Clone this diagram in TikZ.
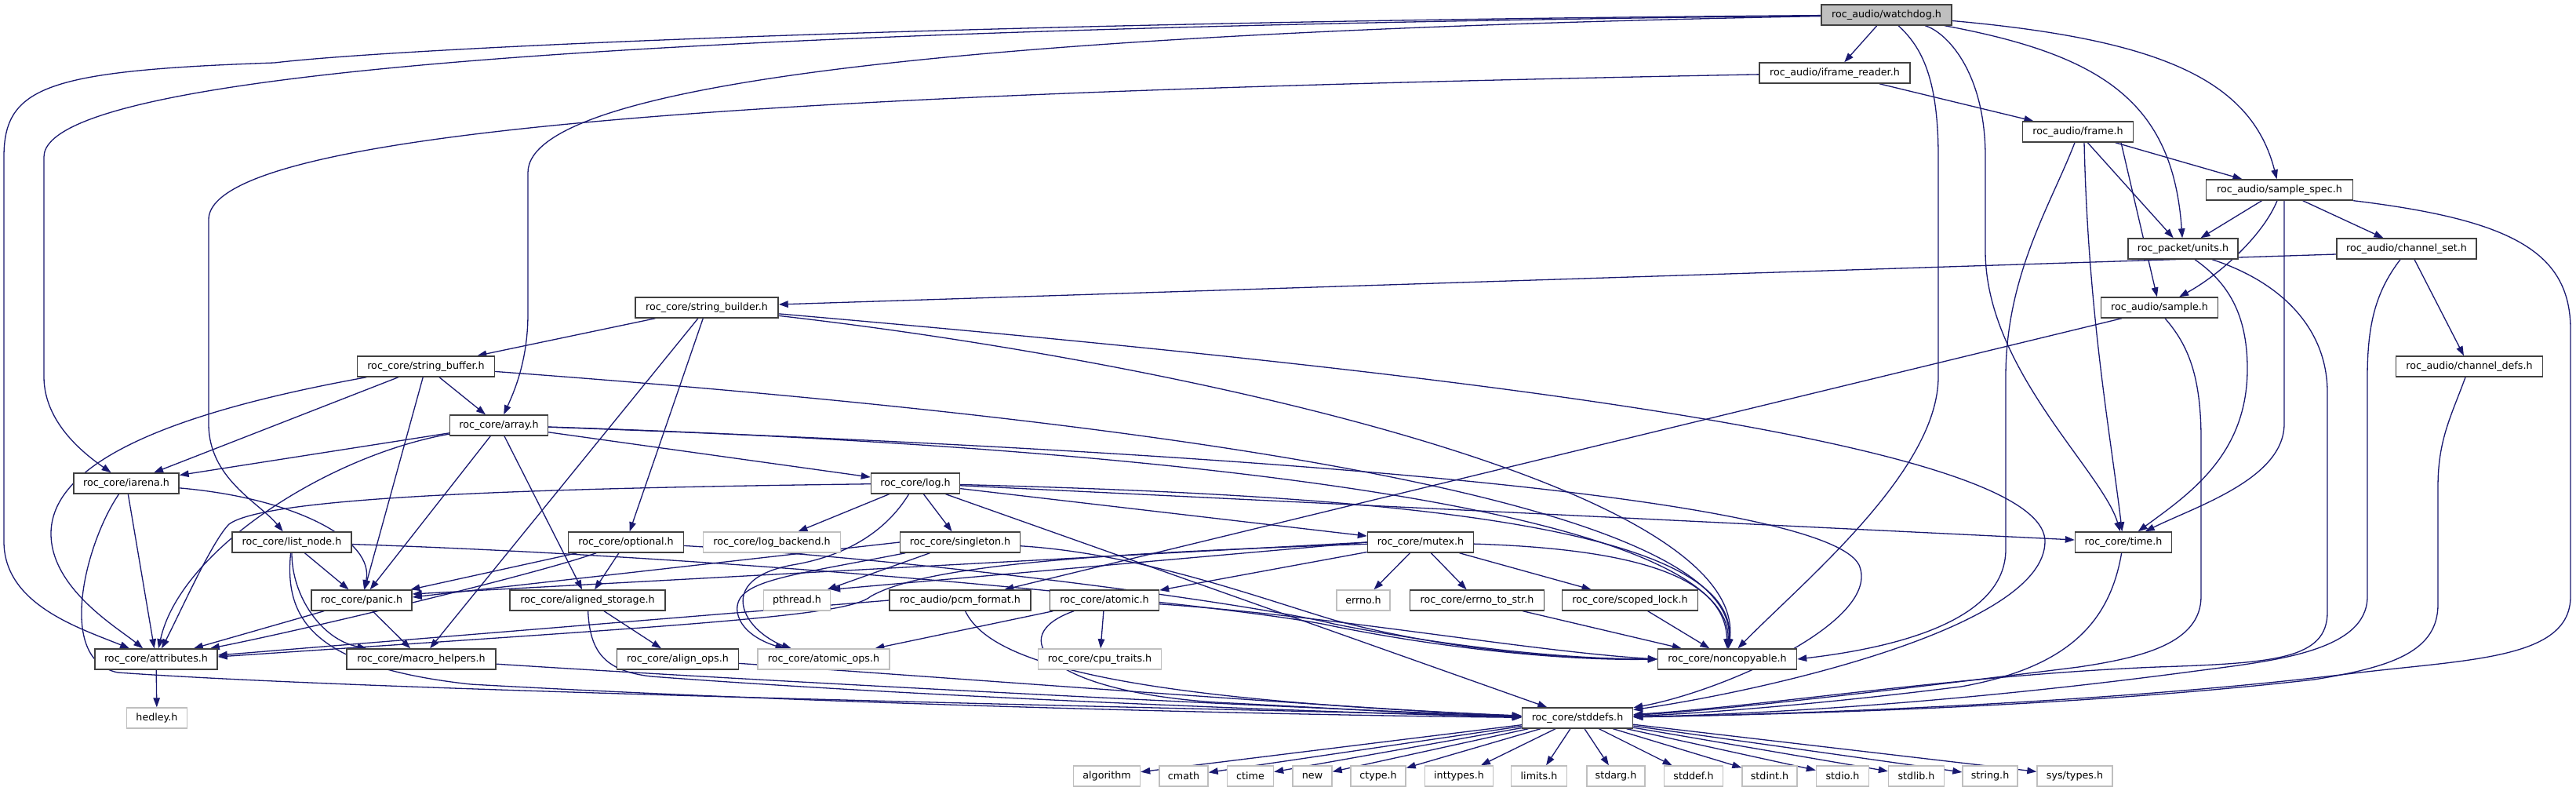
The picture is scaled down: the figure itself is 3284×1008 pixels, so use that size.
\documentclass[tikz,border=0pt]{standalone}
\usepackage{fontspec}
\setmainfont{DejaVu Sans}
\usetikzlibrary{arrows.meta}
\definecolor{edgec}{HTML}{191970}
\definecolor{boxc}{HTML}{404040}
\definecolor{grayc}{HTML}{BFBFBF}
\pgfdeclarelayer{bg}
\pgfsetlayers{bg,main}
\tikzset{
  hdr/.style={draw=boxc, line width=1.4pt, fill=white, minimum height=26pt,
    inner xsep=0pt, inner ysep=0pt, font=\fontsize{12.7}{14}\selectfont, text=black},
  ext/.style={hdr, draw=grayc},
  rootnode/.style={hdr, fill=grayc},
  dep/.style={draw=edgec, line width=1.3pt, -{Triangle[length=12pt,width=8.5pt]}},
}
\begin{document}
\begin{tikzpicture}[x=1pt,y=-1pt]
\useasboundingbox (0,0) rectangle (3284,1008);
% ---------- nodes ----------
\node[rootnode, minimum width=166pt] (watchdog) at (2405,19) {roc\_audio/watchdog.h};
\node[hdr, minimum width=192pt] (iframe) at (2339,93) {roc\_audio/iframe\_reader.h};
\node[hdr, minimum width=141pt] (frame) at (2649,168) {roc\_audio/frame.h};
\node[hdr, minimum width=187pt] (samplespec) at (2906,242) {roc\_audio/sample\_spec.h};
\node[hdr, minimum width=140pt] (units) at (2783,317) {roc\_packet/units.h};
\node[hdr, minimum width=178pt] (channelset) at (3068,317) {roc\_audio/channel\_set.h};
\node[hdr, minimum width=182pt] (strbuilder) at (901,392) {roc\_core/string\_builder.h};
\node[hdr, minimum width=149pt] (sample) at (2753,392) {roc\_audio/sample.h};
\node[hdr, minimum width=187pt] (channeldefs) at (3148,467) {roc\_audio/channel\_defs.h};
\node[hdr, minimum width=175pt] (strbuffer) at (543,467) {roc\_core/string\_buffer.h};
\node[hdr, minimum width=125pt] (array) at (636,542) {roc\_core/array.h};
\node[hdr, minimum width=134pt] (iarena) at (161,616) {roc\_core/iarena.h};
\node[hdr, minimum width=113pt] (log) at (1167,616) {roc\_core/log.h};
\node[hdr, minimum width=152pt] (listnode) at (372,691) {roc\_core/list\_node.h};
\node[hdr, minimum width=147pt] (optional) at (798,691) {roc\_core/optional.h};
\node[ext, minimum width=175pt] (logbackend) at (984,691) {roc\_core/log\_backend.h};
\node[hdr, minimum width=153pt] (singleton) at (1224,691) {roc\_core/singleton.h};
\node[hdr, minimum width=135pt] (mutex) at (1811,691) {roc\_core/mutex.h};
\node[hdr, minimum width=123pt] (time) at (2707,691) {roc\_core/time.h};
\node[hdr, minimum width=128pt] (panic) at (461,765) {roc\_core/panic.h};
\node[hdr, minimum width=198pt] (alignedst) at (749,765) {roc\_core/aligned\_storage.h};
\node[ext, minimum width=85pt] (pthread) at (1016,765) {pthread.h};
\node[hdr, minimum width=180pt] (pcmformat) at (1224,765) {roc\_audio/pcm\_format.h};
\node[hdr, minimum width=139pt] (atomic) at (1408,765) {roc\_core/atomic.h};
\node[ext, minimum width=68pt] (errno) at (1738,765) {errno.h};
\node[hdr, minimum width=171pt] (errnotostr) at (1883,765) {roc\_core/errno\_to\_str.h};
\node[hdr, minimum width=173pt] (scopedlock) at (2078,765) {roc\_core/scoped\_lock.h};
\node[hdr, minimum width=156pt] (attributes) at (199,840) {roc\_core/attributes.h};
\node[hdr, minimum width=190pt] (macrohelpers) at (537,840) {roc\_core/macro\_helpers.h};
\node[hdr, minimum width=155pt] (alignops) at (864,840) {roc\_core/align\_ops.h};
\node[ext, minimum width=168pt] (atomicops) at (1050,840) {roc\_core/atomic\_ops.h};
\node[ext, minimum width=157pt] (cputraits) at (1402,840) {roc\_core/cpu\_traits.h};
\node[hdr, minimum width=177pt] (noncopyable) at (2202,840) {roc\_core/noncopyable.h};
\node[ext, minimum width=77pt] (hedley) at (200,915) {hedley.h};
\node[hdr, minimum width=141pt] (stddefs) at (2011,915) {roc\_core/stddefs.h};
\node[ext, minimum width=85pt] (algorithm) at (1411,989) {algorithm};
\node[ext, minimum width=62pt] (cmath) at (1509,989) {cmath};
\node[ext, minimum width=59pt] (ctime) at (1594,989) {ctime};
\node[ext, minimum width=50pt] (new) at (1673,989) {new};
\node[ext, minimum width=70pt] (ctype) at (1757,989) {ctype.h};
\node[ext, minimum width=87pt] (inttypes) at (1860,989) {inttypes.h};
\node[ext, minimum width=71pt] (limits) at (1962,989) {limits.h};
\node[ext, minimum width=74pt] (stdarg) at (2060,989) {stdarg.h};
\node[ext, minimum width=75pt] (stddef) at (2159,989) {stddef.h};
\node[ext, minimum width=70pt] (stdint) at (2256,989) {stdint.h};
\node[ext, minimum width=67pt] (stdio) at (2349,989) {stdio.h};
\node[ext, minimum width=71pt] (stdlib) at (2443,989) {stdlib.h};
\node[ext, minimum width=70pt] (string) at (2537,989) {string.h};
\node[ext, minimum width=96pt] (systypes) at (2645,989) {sys/types.h};
% ---------- edges ----------
\begin{pgfonlayer}{bg}
\fill[white] (0,0) rectangle (3284,1008);
% watchdog
\draw[dep] (watchdog) -- (iframe);
\draw[dep] (watchdog) .. controls (1300,40) and (673,100) .. (673,220) -- (673,400) .. controls (673,460) and (655,500) .. (array);
\draw[dep] (watchdog) .. controls (1000,35) and (56,80) .. (56,200) -- (56,480) .. controls (56,540) and (110,580) .. (iarena);
\draw[dep] (watchdog) .. controls (1200,28) and (500,62) .. (350,80) .. controls (60,90) and (5,110) .. (5,200) -- (5,690) .. controls (5,770) and (100,800) .. (attributes);
\draw[dep] (watchdog) .. controls (2450,60) and (2471,100) .. (2471,200) -- (2471,480) .. controls (2471,600) and (2300,740) .. (noncopyable);
\draw[dep] (watchdog) .. controls (2480,40) and (2531,90) .. (2531,200) -- (2531,320) .. controls (2531,470) and (2680,600) .. (time);
\draw[dep] (watchdog) .. controls (2680,70) and (2770,130) .. (units);
\draw[dep] (watchdog) .. controls (2750,50) and (2870,100) .. (samplespec);
% iframe_reader
\draw[dep] (iframe) .. controls (1200,115) and (266,150) .. (266,280) -- (266,540) .. controls (266,610) and (330,640) .. (listnode);
\draw[dep] (iframe) -- (frame);
% frame
\draw[dep] (frame) -- (samplespec);
\draw[dep] (frame) -- (units);
\draw[dep] ([xshift=8pt]frame.south) .. controls (2662,400) and (2690,550) .. (time);
\draw[dep] ([xshift=55pt]frame.south) -- (sample);
\draw[dep] ([xshift=-4pt]frame.south) .. controls (2615,260) and (2557,350) .. (2557,480) -- (2557,700) .. controls (2557,790) and (2420,825) .. (noncopyable.east);
% sample_spec
\draw[dep] (samplespec) -- (units);
\draw[dep] (samplespec) -- (channelset);
\draw[dep] ([xshift=-3pt]samplespec.south) .. controls (2885,300) and (2830,350) .. (sample);
\draw[dep] ([xshift=6pt]samplespec.south) .. controls (2912,300) and (2912,350) .. (2912,420) -- (2912,540) .. controls (2912,610) and (2800,645) .. (time);
\draw[dep] (samplespec.south east) .. controls (3200,280) and (3277,320) .. (3277,420) -- (3277,760) .. controls (3277,840) and (3150,840) .. (3000,858) .. controls (2700,895) and (2300,910) .. (stddefs);
% units
\draw[dep] ([xshift=15pt]units.south) .. controls (2840,360) and (2865,400) .. (2865,470) .. controls (2865,580) and (2790,630) .. (time);
\draw[dep] ([xshift=37pt]units.south) .. controls (2910,360) and (2967,420) .. (2967,500) -- (2967,780) .. controls (2967,840) and (2900,845) .. (2750,850) .. controls (2500,860) and (2250,900) .. (stddefs);
% sample
\draw[dep] ([xshift=-48pt]sample.south) -- (pcmformat);
\draw[dep] ([xshift=7pt]sample.south) .. controls (2790,440) and (2806,480) .. (2806,560) -- (2806,760) .. controls (2806,820) and (2730,838) .. (2650,850) .. controls (2450,875) and (2200,905) .. (stddefs);
% channel_set
\draw[dep] ([yshift=-7pt]channelset.west) -- ([yshift=4pt]strbuilder.east);
\draw[dep] ([xshift=10pt]channelset.south) -- (channeldefs);
\draw[dep] ([xshift=-8pt]channelset.south) .. controls (3030,370) and (3018,410) .. (3018,480) -- (3018,760) .. controls (3018,830) and (2900,842) .. (2800,855) .. controls (2500,895) and (2250,910) .. (stddefs);
% channel_defs
\draw[dep] (channeldefs) .. controls (3125,530) and (3108,560) .. (3108,620) -- (3108,770) .. controls (3108,830) and (3050,850) .. (2950,866) .. controls (2650,900) and (2300,910) .. (stddefs);
% string_builder
\draw[dep] (strbuilder) -- (strbuffer);
\draw[dep] (strbuilder) -- (macrohelpers);
\draw[dep] (strbuilder) -- (optional);
\draw[dep] (strbuilder) .. controls (1500,460) and (2230,620) .. (noncopyable);
\draw[dep] (strbuilder) .. controls (1800,470) and (2607,560) .. (2607,690) .. controls (2607,800) and (2250,880) .. (stddefs);
% string_buffer
\draw[dep] (strbuffer) .. controls (250,520) and (65,580) .. (65,680) .. controls (65,750) and (150,800) .. (attributes);
\draw[dep] (strbuffer) -- (iarena);
\draw[dep] (strbuffer) -- (panic);
\draw[dep] (strbuffer) -- (array);
\draw[dep] (strbuffer) .. controls (1400,530) and (2220,630) .. (noncopyable);
% array
\draw[dep] (array) -- (iarena);
\draw[dep] (array) .. controls (420,580) and (230,700) .. (attributes);
\draw[dep] (array) -- (panic);
\draw[dep] (array) -- (alignedst);
\draw[dep] (array) -- (log);
\draw[dep] (array) .. controls (1500,570) and (2210,650) .. (noncopyable);
\draw[dep] (array) .. controls (1700,580) and (2330,640) .. (2370,720) .. controls (2400,790) and (2200,880) .. (stddefs);
% iarena
\draw[dep] (iarena) -- (attributes);
\draw[dep] (iarena) .. controls (380,635) and (478,690) .. (panic);
\draw[dep] (iarena) .. controls (110,690) and (70,840) .. (150,857) .. controls (500,882) and (1500,902) .. (stddefs);
% log
\draw[dep] (log) -- (logbackend);
\draw[dep] (log) -- (singleton);
\draw[dep] (log) -- (mutex);
\draw[dep] (log) -- (time);
\draw[dep] (log) .. controls (700,622) and (340,632) .. (292,668) .. controls (270,690) and (230,780) .. (attributes);
\draw[dep] (log) .. controls (1140,660) and (1100,705) .. (1010,720) .. controls (955,730) and (940,755) .. (950,780) .. controls (960,805) and (990,820) .. (atomicops);
\draw[dep] (log) .. controls (1700,630) and (2220,660) .. (noncopyable);
\draw[dep] (log) -- (stddefs);
% singleton
\draw[dep] (singleton) -- (pthread);
\draw[dep] (singleton.west) -- ([yshift=4pt]panic.east);
\draw[dep] (singleton) .. controls (1000,735) and (935,740) .. (940,780) .. controls (945,810) and (985,822) .. (atomicops);
\draw[dep] (singleton) .. controls (1450,705) and (1600,760) .. (1700,790) .. controls (1850,830) and (2000,840) .. (noncopyable.west);
% optional
\draw[dep] (optional) -- (panic);
\draw[dep] (optional) .. controls (690,730) and (400,800) .. (attributes);
\draw[dep] (optional) -- (alignedst);
\draw[dep] (optional) .. controls (1200,715) and (1600,770) .. (1700,795) .. controls (1850,825) and (2000,840) .. (noncopyable.west);
% list_node
\draw[dep] (listnode) -- (panic);
\draw[dep] (listnode) .. controls (372,760) and (410,815) .. (macrohelpers);
\draw[dep] (listnode) .. controls (362,790) and (400,850) .. (600,872) .. controls (1100,900) and (1700,912) .. (stddefs);
\draw[dep] (listnode) .. controls (1000,712) and (1600,775) .. (1700,798) .. controls (1850,828) and (2000,842) .. (noncopyable.west);
% panic
\draw[dep] (panic) -- (attributes);
\draw[dep] (panic) -- (macrohelpers);
% aligned_storage
\draw[dep] (alignedst) -- (alignops);
\draw[dep] (alignedst) .. controls (752,830) and (770,855) .. (830,862) .. controls (1200,890) and (1750,910) .. (stddefs);
% macro_helpers, align_ops
\draw[dep] (macrohelpers) .. controls (1000,870) and (1700,905) .. (stddefs);
\draw[dep] (alignops) .. controls (1300,870) and (1750,905) .. (stddefs);
% pcm_format
\draw[dep] (pcmformat.west) -- ([yshift=5pt]attributes.east);
\draw[dep] (pcmformat) .. controls (1260,840) and (1400,890) .. (stddefs);
% atomic
\draw[dep] (atomic) -- (atomicops);
\draw[dep] (atomic) -- (cputraits);
\draw[dep] (atomic) .. controls (1280,810) and (1330,880) .. (1550,895) .. controls (1750,905) and (1850,912) .. (stddefs);
\draw[dep] (atomic) .. controls (1700,785) and (1950,830) .. (noncopyable.west);
% mutex
\draw[dep] (mutex) -- (errno);
\draw[dep] (mutex) -- (errnotostr);
\draw[dep] (mutex) -- (scopedlock);
\draw[dep] (mutex) .. controls (2100,700) and (2200,740) .. (noncopyable);
\draw[dep] (mutex) -- (atomic);
\draw[dep] (mutex.west) -- (pthread.north east);
\draw[dep] (mutex.west) -- ([yshift=8pt]panic.east);
\draw[dep] (mutex) .. controls (1400,705) and (1180,720) .. (1110,760) .. controls (1080,785) and (900,795) .. ([yshift=3pt]attributes.east);
% errno_to_str, scoped_lock
\draw[dep] (errnotostr) -- (noncopyable);
\draw[dep] (scopedlock) -- (noncopyable);
% time
\draw[dep] (time) .. controls (2690,790) and (2640,850) .. (2500,875) .. controls (2300,900) and (2150,910) .. (stddefs);
% attributes
\draw[dep] (attributes) -- (hedley);
% stddefs
\foreach \t in {algorithm,cmath,ctime,new,ctype,inttypes,limits,stdarg,stddef,stdint,stdio,stdlib,string,systypes}
  \draw[dep] (stddefs) -- (\t);
\end{pgfonlayer}
\end{tikzpicture}
\end{document}
